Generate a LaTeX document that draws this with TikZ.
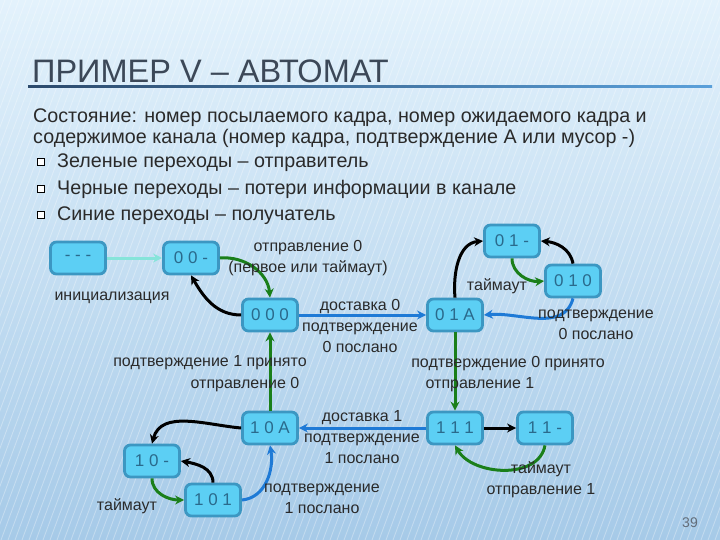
\documentclass[tikz,border=0pt]{standalone}
\usepackage{fontspec}
\setmainfont{Liberation Sans}
\usetikzlibrary{arrows.meta}
\definecolor{bgtop}{HTML}{E3F2FC}
\definecolor{bgbot}{HTML}{A6CAE8}
\definecolor{nodefill}{HTML}{5CCFF4}
\definecolor{nodeborder}{HTML}{3C97C2}
\definecolor{nodetext}{HTML}{2A6A8C}
\definecolor{grn}{HTML}{1A7F1A}
\definecolor{blu}{HTML}{1E7AD6}
\definecolor{ini}{HTML}{86E4DA}
\definecolor{titlec}{HTML}{3C4858}
\definecolor{txt}{HTML}{2A2A2A}
\definecolor{ulL}{HTML}{2C4A6C}
\definecolor{ulR}{HTML}{5AA0DA}
\begin{document}
\begin{tikzpicture}[x=1pt,y=1pt,
  st/.style={draw=nodeborder, fill=nodefill, line width=2.8pt, rounded corners=6pt,
    minimum width=55pt, minimum height=32pt, inner sep=0pt,
    font=\fontsize{17}{17}\selectfont, text=nodetext},
  lbl/.style={font=\fontsize{16}{21}\selectfont, text=txt, align=center, inner sep=0pt},
  body/.style={font=\fontsize{19.7}{20}\selectfont, text=txt, inner sep=0pt, anchor=base west},
  bul/.style={draw=black, line width=1pt, fill=white, minimum size=7pt, inner sep=0pt},
  arr/.style={line width=3pt, -{Stealth[length=9pt,width=9pt]}}]
\useasboundingbox (0,0) rectangle (720,-540);
\shade[top color=bgtop, bottom color=bgbot] (0,0) rectangle (720,-540);
\begin{scope}
  \clip (0,0) rectangle (720,-540);
  \foreach \i in {-300,-293,...,720} \draw[white, opacity=0.3, line width=0.9pt] (\i,-540) -- (\i+200,0);
\end{scope}
% title
\node[anchor=base west, inner sep=0pt, font=\fontsize{32.5}{32}\selectfont, text=titlec] (title) at (32,-83) {ПРИМЕР V – АВТОМАТ};
\shade[left color=ulL, right color=ulR] (28,-85.5) rectangle (712,-87.5);
% body text
\node[body] (t1) at (33,-123) {Состояние: номер посылаемого кадра, номер ожидаемого кадра и};
\node[body] (t2) at (33,-144) {содержимое канала (номер кадра, подтверждение А или мусор -)};
\node[bul] (b1) at (40.5,-162) {};
\node[bul] (b2) at (40.5,-189) {};
\node[bul] (b3) at (40.5,-215) {};
\node[body] (t3) at (57,-168) {Зеленые переходы – отправитель};
\node[body] (t4) at (57,-195) {Черные переходы – потери информации в канале};
\node[body] (t5) at (57,-221) {Синие переходы – получатель};
% states
\node[st] (nini) at (78,-258) {- - -};
\node[st] (n00m) at (191,-258) {0 0 -};
\node[st] (n000) at (270,-315) {0 0 0};
\node[st] (n01A) at (455,-315) {0 1 A};
\node[st] (n01m) at (512,-241) {0 1 -};
\node[st] (n010) at (573,-281) {0 1 0};
\node[st] (n10A) at (270,-428) {1 0 A};
\node[st] (n111) at (455,-428) {1 1 1};
\node[st] (n11m) at (545,-428) {1 1 -};
\node[st] (n10m) at (152,-461) {1 0 -};
\node[st] (n101) at (213,-500) {1 0 1};
% transitions
\draw[arr, ini] (nini) -- (n00m);
\draw[arr, grn] (n00m.east) to[out=5,in=95] (n000.north);
\draw[arr] (n000.west) to[out=180,in=-60] (n00m.south);
\draw[arr, blu] (n000) -- (n01A);
\draw[arr] (n01A.north) to[out=95,in=185] (n01m.west);
\draw[arr, grn] (n01m.south) to[out=-90,in=185] (n010.west);
\draw[arr] (n010.north) to[out=100,in=-5] (n01m.east);
\draw[arr, blu] (n010.south) to[out=-105,in=5] (n01A.east);
\draw[arr, grn] (n01A) -- (n111);
\draw[arr, grn] (n10A) -- (n000);
\draw[arr, blu] (n111) -- (n10A);
\draw[arr] (n111) -- (n11m);
\draw[arr, grn] (n11m.south) to[out=-100,in=-60] (n111.south);
\draw[arr] (n10A.west) to[out=175,in=75] (n10m.north);
\draw[arr, grn] (n10m.south) to[out=-90,in=180] (n101.west);
\draw[arr] (n101.north) to[out=90,in=-10] (n10m.east);
\draw[arr, blu] (n101.east) to[out=5,in=-80] (n10A.south);
% labels
\node[lbl] (l1) at (308,-258) {отправление 0\\(первое или таймаут)};
\node[lbl] (l2) at (112,-298) {инициализация};
\node[lbl] (l3) at (360,-325.5) {доставка 0\\подтверждение\\0 послано};
\node[lbl] (l4) at (210,-363) {подтверждение 1 принято};
\node[lbl] (l5) at (245,-385) {отправление 0};
\node[lbl] (l6) at (497,-286) {таймаут};
\node[lbl] (l7) at (596,-325) {подтверждение\\0 послано};
\node[lbl] (l8) at (508,-364) {подтверждение 0 принято};
\node[lbl] (l9) at (480,-385) {отправление 1};
\node[lbl] (l10) at (362,-437) {доставка 1\\подтверждение\\1 послано};
\node[lbl] (l11) at (127,-506) {таймаут};
\node[lbl] (l12) at (322,-499) {подтверждение\\1 послано};
\node[lbl] (l13) at (541,-480) {таймаут\\отправление 1};
\node[inner sep=0pt, font=\fontsize{14}{14}\selectfont, text=titlec!80] (pg) at (690,-523) {39};
\end{tikzpicture}
\end{document}
